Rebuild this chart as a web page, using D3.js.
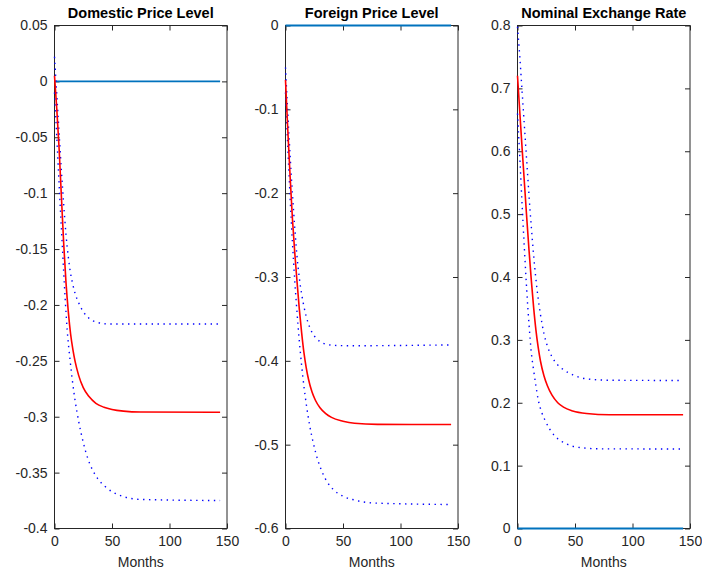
<!DOCTYPE html>
<html>
<head>
<meta charset="utf-8">
<script src="https://cdn.jsdelivr.net/npm/d3@7"></script>
<style>
  body { margin: 0; background: #fff; }
  svg { display: block; font-family: "Liberation Sans", Arial, sans-serif; }
</style>
</head>
<body>
<div id="chart"></div>
<script>
// titles and ticks
const titles = ["Domestic Price Level", "Foreign Price Level", "Nominal Exchange Rate"];
const xTicks = [0, 50, 100, 150];
const horizon = [0, 144];

const domesticTicks = [0.05, 0, -0.05, -0.1, -0.15, -0.2, -0.25, -0.3, -0.35, -0.4];
const foreignTicks = [0, -0.1, -0.2, -0.3, -0.4, -0.5, -0.6];
const exchangeTicks = [0, 0.1, 0.2, 0.3, 0.4, 0.5, 0.6, 0.7, 0.8];

// [month, value]
const domesticIrf = [[0, 0.005], [2, -0.025], [4, -0.06], [6, -0.103], [8, -0.145], [10, -0.18],
  [12, -0.206], [14, -0.226], [16, -0.24], [18, -0.251], [21, -0.263], [25, -0.274], [30, -0.282],
  [36, -0.288], [43, -0.2915], [50, -0.2935], [60, -0.295], [75, -0.2958], [144, -0.296]];
const domesticUpper = [[0, 0.022], [2, -0.012], [4, -0.046], [6, -0.08], [8, -0.11], [10, -0.137],
  [12, -0.157], [14, -0.172], [16, -0.182], [18, -0.19], [21, -0.198], [25, -0.206], [30, -0.212],
  [37, -0.2155], [47, -0.217], [144, -0.217]];
const domesticLower = [[0, -0.01], [2, -0.05], [4.4, -0.1], [6.7, -0.145], [9.2, -0.193], [11, -0.222],
  [13.6, -0.25], [17.4, -0.282], [21, -0.304], [25, -0.323], [29, -0.3375], [33, -0.3475], [38, -0.356],
  [44, -0.3625], [50, -0.367], [60, -0.3715], [75, -0.374], [144, -0.375]];

const foreignIrf = [[0, -0.065], [2, -0.125], [4, -0.18], [6, -0.23], [8, -0.27], [10, -0.305],
  [12, -0.338], [14, -0.366], [16, -0.39], [18, -0.408], [20, -0.422], [23, -0.437], [26, -0.447],
  [30, -0.456], [35, -0.463], [40, -0.4675], [50, -0.472], [60, -0.4745], [80, -0.4758], [144, -0.476]];
const foreignUpper = [[0, -0.05], [2, -0.105], [4, -0.155], [6, -0.2], [8, -0.24], [10, -0.275],
  [12, -0.301], [14, -0.32], [16, -0.335], [18, -0.347], [20, -0.356], [23, -0.366], [26, -0.372],
  [30, -0.377], [35, -0.38], [42, -0.3815], [55, -0.382], [144, -0.381]];
const foreignLower = [[0, -0.08], [2, -0.145], [4, -0.205], [6, -0.258], [8, -0.303], [10, -0.342],
  [12, -0.376], [14, -0.405], [16, -0.43], [18, -0.451], [21, -0.477], [24, -0.497], [28, -0.518],
  [32, -0.533], [36, -0.544], [42, -0.554], [50, -0.5615], [60, -0.566], [75, -0.5695], [144, -0.5714]];

const exchangeIrf = [[0, 0.72], [2, 0.662], [4, 0.605], [6, 0.55], [8, 0.495], [10, 0.443], [12, 0.395],
  [14, 0.352], [16, 0.316], [18, 0.288], [20, 0.266], [23, 0.243], [26, 0.227], [30, 0.212], [35, 0.2],
  [40, 0.193], [48, 0.187], [60, 0.183], [80, 0.181], [144, 0.181]];
const exchangeUpper = [[0, 0.798], [2, 0.75], [4, 0.695], [6, 0.64], [8, 0.585], [10, 0.53], [12, 0.48],
  [14, 0.435], [16, 0.397], [18, 0.365], [20, 0.34], [23, 0.31], [26, 0.29], [30, 0.273], [35, 0.26],
  [40, 0.2525], [48, 0.2445], [60, 0.238], [80, 0.2358], [144, 0.2354]];
const exchangeLower = [[0, 0.66], [2, 0.59], [4, 0.515], [6, 0.445], [8, 0.38], [10, 0.325], [12, 0.28],
  [14, 0.252], [16, 0.227], [18, 0.205], [21, 0.185], [24, 0.172], [28, 0.158], [32, 0.148], [38, 0.139],
  [46, 0.132], [58, 0.128], [72, 0.1267], [144, 0.1265]];

const panels = [
  { title: titles[0], ticks: domesticTicks, irf: domesticIrf, upper: domesticUpper, lower: domesticLower },
  { title: titles[1], ticks: foreignTicks, irf: foreignIrf, upper: foreignUpper, lower: foreignLower },
  { title: titles[2], ticks: exchangeTicks, irf: exchangeIrf, upper: exchangeUpper, lower: exchangeLower }
];

const w = 702;
const h = 576;
const plotTop = 25.5;
const plotBottom = 528.5;
const lefts = [54.5, 285.5, 517.5];
const pw = 172.5;
const axisColor = "#262626";

const svg = d3.select("#chart")
  .append("svg")
  .attr("width", w)
  .attr("height", h);

panels.forEach(function(p, i) {
  const x = d3.scaleLinear().domain([0, 150]).range([lefts[i], lefts[i] + pw]);
  const y = d3.scaleLinear().domain(d3.extent(p.ticks)).range([plotBottom, plotTop]);
  const fmt = d => String(+d.toFixed(2));
  const g = svg.append("g");

  // box
  g.append("rect")
    .attr("x", lefts[i]).attr("y", plotTop)
    .attr("width", pw).attr("height", plotBottom - plotTop)
    .attr("fill", "none").attr("stroke", axisColor).attr("stroke-width", 1);

  // axes, ticks pointing inwards
  const styleAxis = sel => {
    sel.select(".domain").remove();
    sel.selectAll(".tick line").attr("stroke", axisColor);
    sel.selectAll("text").attr("fill", axisColor).attr("font-size", 14)
      .attr("font-family", "Liberation Sans, Arial, sans-serif");
  };
  g.append("g").attr("transform", "translate(" + lefts[i] + ",0)")
    .call(d3.axisLeft(y).tickValues(p.ticks).tickFormat(fmt).tickSize(-5).tickPadding(7))
    .call(styleAxis);
  g.append("g").attr("transform", "translate(" + (lefts[i] + pw) + ",0)")
    .call(d3.axisRight(y).tickValues(p.ticks).tickFormat("").tickSize(-5))
    .call(styleAxis);
  g.append("g").attr("transform", "translate(0," + plotBottom + ")")
    .call(d3.axisBottom(x).tickValues(xTicks).tickFormat(d3.format("d")).tickSize(-5).tickPadding(8))
    .call(styleAxis);
  g.append("g").attr("transform", "translate(0," + plotTop + ")")
    .call(d3.axisTop(x).tickValues(xTicks).tickFormat("").tickSize(-5))
    .call(styleAxis);

  // title and x label
  g.append("text")
    .attr("x", lefts[i] + pw / 2).attr("y", 18)
    .attr("text-anchor", "middle")
    .attr("font-size", 14.5).attr("font-weight", "bold")
    .text(p.title);
  g.append("text")
    .attr("x", lefts[i] + pw / 2).attr("y", 567)
    .attr("text-anchor", "middle")
    .attr("font-size", 14).attr("fill", axisColor)
    .text("Months");

  const line = d3.line()
    .x(d => x(d[0]))
    .y(d => y(d[1]))
    .curve(d3.curveMonotoneX);

  // zero line
  g.append("path")
    .datum(horizon.map(m => [m, 0]))
    .attr("d", line)
    .attr("fill", "none").attr("stroke", "#0072BD").attr("stroke-width", 1.8);

  // bands
  [p.upper, p.lower].forEach(function(band) {
    g.append("path")
      .datum(band)
      .attr("d", line)
      .attr("fill", "none").attr("stroke", "#0000ff")
      .attr("stroke-width", 1.4)
      .attr("stroke-dasharray", "1.4,4.5");
  });

  // impulse response
  g.append("path")
    .datum(p.irf)
    .attr("d", line)
    .attr("fill", "none").attr("stroke", "#ff0000").attr("stroke-width", 1.6);
});
</script>
</body>
</html>
